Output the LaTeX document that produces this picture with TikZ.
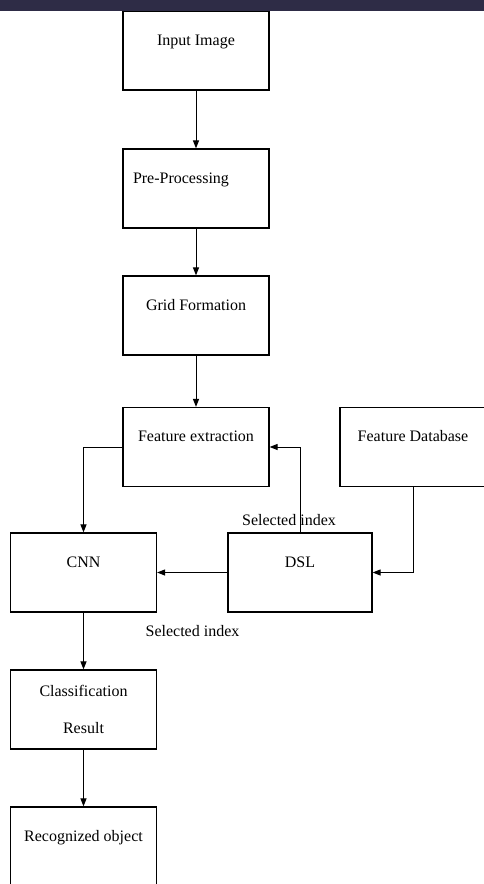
\documentclass[tikz,border=0pt]{standalone}
\usepackage{fontspec}
\setmainfont{Liberation Serif}
\usetikzlibrary{arrows.meta,positioning}
\definecolor{barcol}{RGB}{46,44,70}

\begin{document}
\begin{tikzpicture}[x=0.75pt,y=-0.75pt,>={Triangle[length=6pt,width=4.5pt]},
    cell/.style={draw,line width=0.9pt,minimum width=109.5pt,minimum height=59.25pt,
      font=\fontsize{12}{14.5}\selectfont},
    box/.style={cell,text height=9pt,text depth=17pt},
    lbl/.style={font=\fontsize{12}{14.5}\selectfont,inner sep=0pt,anchor=base},
    flow/.style={->,line width=0.75pt}]
\useasboundingbox (0,0) rectangle (484,884);
\clip (0,0) rectangle (484,884);
% main chain
\node[box] (inp) at (196,50.5) {Input Image};
\node[box,align=left,text width=94.5pt] (pre) at (196,188.5) {Pre-Processing};
\node[box] (grid) at (196,315.5) {Grid Formation};
\node[box] (feat) at (196,447) {Feature extraction};
\node[box] (fdb) at (413,447) {Feature Database};
\node[box,minimum width=108pt] (dsl) at (300,572.5) {DSL};
\node[box] (cnn) at (83.5,572.5) {CNN};
\node[cell,align=center] (cls) at (83.5,709.5) {Classification\\[13pt]Result};
\node[box] (rec) at (83.5,846.5) {Recognized object};
% labels
\node[lbl] (selup) at (289,525.5) {Selected index};
\node[lbl] (seldn) at (192.5,636.5) {Selected index};
% connectors
\draw[flow] (inp) -- (pre);
\draw[flow] (pre) -- (grid);
\draw[flow] (grid) -- (feat);
\draw[flow] (feat.west) -| (cnn.north);
\draw[flow] (dsl.north) |- (feat.east);
\draw[flow] (fdb.south) |- (dsl.east);
\draw[flow] (dsl.west) -- (cnn.east);
\draw[flow] (cnn) -- (cls);
\draw[flow] (cls) -- (rec);
\fill[barcol] (0,0) rectangle (484,10.7);
\end{tikzpicture}
\end{document}
